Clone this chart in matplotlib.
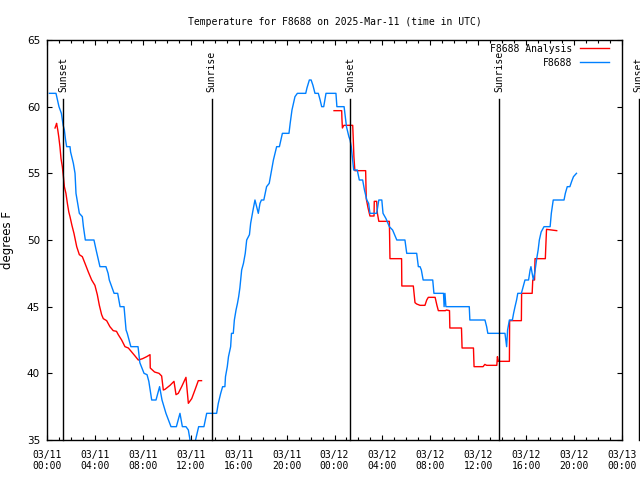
import matplotlib
matplotlib.use('Agg')
from matplotlib import pyplot as plt
import matplotlib.dates as mdates
import pandas as pd

# hours since 2025-03-11 00:00 UTC
obs_hours = [0.2, 0.75, 1.0, 1.2, 1.35, 1.45, 1.55, 1.64, 1.92, 1.97, 2.1, 2.2, 2.34, 2.42, 2.55, 2.7,
             2.95, 3.04, 3.2, 3.92, 4.1, 4.42, 4.92, 5.1, 5.2, 5.6, 5.9, 6.1, 6.43, 6.6, 6.7, 7.0,
             7.6, 7.75, 8.1, 8.35, 8.5, 8.74, 9.1, 9.4, 9.6, 9.93, 10.35, 10.8, 11.1, 11.3, 11.6,
             11.8, 11.94, 12.1, 12.25, 12.4, 12.66, 13.1, 13.33, 14.16, 14.3, 14.5, 14.66, 14.85,
             14.9, 15.05, 15.15, 15.33, 15.4, 15.55, 15.64, 15.78, 15.9, 16.0, 16.1, 16.25, 16.4,
             16.55, 16.67, 16.9, 17.0, 17.2, 17.36, 17.5, 17.64, 17.78, 17.9, 18.1, 18.33, 18.55,
             18.75, 18.9, 19.17, 19.4, 19.65, 20.2, 20.3, 20.45, 20.7, 20.9, 21.6, 21.7, 21.9,
             22.05, 22.2, 22.37, 22.65, 22.8, 22.93, 23.1, 23.29, 24.12, 24.2, 24.8, 24.9, 25.0,
             25.2, 25.3, 25.4, 25.5, 25.55, 25.6, 25.9, 26.07, 26.35, 26.5, 26.7, 26.85, 26.96,
             27.52, 27.7, 27.95, 28.05, 28.3, 28.58, 28.85, 29.2, 29.88, 30.03, 30.86, 31.0, 31.14,
             31.25, 31.4, 32.2, 32.3, 33.1, 33.15, 33.22, 33.3, 35.25, 35.3, 36.56, 36.7, 36.8,
             38.23, 38.3, 38.37, 38.45, 38.6, 38.85, 38.95, 39.07, 39.2, 39.3, 39.6, 39.75, 39.9,
             40.2, 40.33, 40.4, 40.5, 40.6, 40.75, 40.88, 41.0, 41.1, 41.25, 41.49, 42.0, 42.1,
             42.26, 43.16, 43.27, 43.43, 43.65, 43.8, 43.95, 44.2]
obs_temp = [61.0, 61.0, 60.0, 59.5, 58.6, 58.25, 57.5, 57.0, 57.0, 56.6, 56.1, 55.75, 55.0, 53.5, 52.8, 52.0,
            51.75, 51.0, 50.0, 50.0, 49.25, 48.0, 48.0, 47.5, 47.0, 46.0, 46.0, 45.0, 45.0, 43.25, 43.0, 42.0,
            42.0, 40.8, 40.0, 39.9, 39.4, 38.0, 38.0, 39.0, 38.0, 37.0, 36.0, 36.0, 37.0, 36.0, 36.0,
            35.75, 35.0, 34.5, 34.5, 35.0, 36.0, 36.0, 37.0, 37.0, 37.75, 38.5, 39.0, 39.0,
            39.75, 40.5, 41.25, 42.0, 43.0, 43.0, 44.0, 44.75, 45.25, 45.75, 46.4, 47.75, 48.25,
            49.0, 50.0, 50.4, 51.25, 52.25, 53.0, 52.5, 52.0, 52.75, 53.0, 53.0, 54.0, 54.25,
            55.25, 56.0, 57.0, 57.0, 58.0, 58.0, 58.75, 59.75, 60.75, 61.0, 61.0, 61.4, 62.0,
            62.0, 61.6, 61.0, 61.0, 60.5, 60.0, 60.0, 61.0, 61.0, 60.0, 60.0, 59.25, 58.5,
            57.75, 57.5, 57.0, 56.1, 55.6, 55.25, 55.25, 54.5, 54.5, 53.75, 53.0, 52.75, 52.0,
            52.0, 53.0, 53.0, 52.0, 51.6, 51.0, 50.75, 50.0, 50.0, 49.0, 49.0, 48.0, 48.0,
            47.75, 47.0, 47.0, 46.0, 46.0, 45.0, 46.0, 45.0, 45.0, 44.0, 44.0, 43.5, 43.0,
            43.0, 42.5, 42.0, 43.25, 44.0, 44.0, 44.5, 45.0, 45.5, 46.0, 46.0, 46.5, 47.0,
            47.0, 47.75, 48.0, 47.5, 47.0, 47.75, 48.6, 49.25, 50.0, 50.6, 51.0, 51.0, 52.0,
            53.0, 53.0, 53.5, 54.0, 54.0, 54.4, 54.75, 55.0]

ana1_hours = [0.67, 0.75, 0.8, 0.9, 0.98, 1.08, 1.17, 1.28, 1.37, 1.45, 1.58, 1.7, 1.82, 1.92, 2.08, 2.25,
              2.48, 2.7, 2.95, 3.17, 3.45, 3.73, 4.0, 4.2, 4.37, 4.56, 4.7, 4.98, 5.25, 5.53, 5.8, 5.95,
              6.23, 6.51, 6.79, 7.07, 7.35, 7.62, 7.98, 8.32, 8.6, 8.62, 8.98, 9.35, 9.57, 9.71, 9.85,
              10.27, 10.6, 10.77, 10.96, 11.24, 11.6, 11.8, 12.08, 12.35, 12.63, 12.9]
ana1_temp = [58.4, 58.6, 58.75, 58.25, 57.75, 57.0, 56.1, 55.5, 54.75, 54.0, 53.5, 52.75, 52.1, 51.75, 51.1, 50.5,
             49.5, 48.9, 48.75, 48.25, 47.6, 47.0, 46.6, 45.9, 45.1, 44.4, 44.1, 43.95, 43.5, 43.2, 43.15, 42.9,
             42.5, 42.0, 41.9, 41.6, 41.3, 41.0, 41.1, 41.25, 41.4, 40.4, 40.1, 40.0, 39.8, 38.75, 38.8,
             39.1, 39.4, 38.4, 38.5, 39.0, 39.7, 37.75, 38.1, 38.75, 39.45, 39.45]

ana2_hours = [23.96, 24.6, 24.62, 24.66, 24.78, 25.52, 25.57, 25.62, 25.7, 26.6, 26.65, 26.8, 26.96, 27.3,
              27.32, 27.52, 27.58, 27.7, 28.58, 28.63, 29.6, 29.62, 30.58, 30.72, 30.86, 31.14, 31.55,
              31.7, 31.83, 32.4, 32.55, 32.67, 33.25, 33.35, 33.6, 33.63, 34.6, 34.65, 35.6, 35.65, 36.4,
              36.55, 36.7, 37.55, 37.6, 37.68, 38.6, 38.62, 39.6, 39.62, 40.5, 40.55, 40.7, 40.74, 41.6,
              41.65, 41.7, 42.55]
ana2_temp = [59.7, 59.7, 59.1, 58.4, 58.6, 58.6, 57.5, 56.25, 55.2, 55.2, 53.1, 52.4, 51.8, 51.8,
             52.9, 52.9, 52.0, 51.4, 51.4, 48.6, 48.6, 46.55, 46.55, 45.3, 45.2, 45.1, 45.1,
             45.5, 45.7, 45.7, 45.1, 44.7, 44.7, 44.75, 44.7, 43.4, 43.4, 41.9, 41.9, 40.5, 40.5,
             40.67, 40.6, 40.6, 41.25, 40.9, 40.9, 43.95, 43.95, 46.0, 46.0, 47.0, 47.0, 48.6, 48.6,
             49.75, 50.8, 50.7]

sun_hours = [1.36, 13.75, 25.32, 37.75, 49.4]
sun_labels = ['Sunset', 'Sunrise', 'Sunset', 'Sunrise', 'Sunset']

start = pd.Timestamp('2025-03-11 00:00')


def to_time(hours):
    return start + pd.to_timedelta(hours, unit='h')


mono = 'DejaVu Sans Mono'
plt.rcParams['font.family'] = mono
plt.rcParams['font.size'] = 7

fig = plt.figure(figsize=(6.4, 4.8), dpi=100)
ax = fig.add_axes([47 / 640, 40 / 480, 575 / 640, 400 / 480])

red = '#ff0000'
blue = '#0080ff'
ax.plot(to_time(ana1_hours), ana1_temp, color=red, lw=1.0, label='F8688 Analysis')
ax.plot(to_time(ana2_hours), ana2_temp, color=red, lw=1.0)
ax.plot(to_time(obs_hours), obs_temp, color=blue, lw=1.0, label='F8688')

# sunrise / sunset markers
for h, lab in zip(sun_hours, sun_labels):
    t = to_time(h)
    ax.plot([t, t], [35, 60.58], color='black', lw=1.0, clip_on=False)
    ax.text(t, 61.1, lab, rotation=90, ha='center', va='bottom', fontsize=7,
            family=mono, clip_on=False)

ax.set_xlim(start, to_time(48))
ax.set_ylim(35, 65)
ax.set_yticks([35, 40, 45, 50, 55, 60, 65])

ax.xaxis.set_major_locator(mdates.HourLocator(byhour=range(0, 24, 4)))
ax.xaxis.set_minor_locator(mdates.HourLocator())
ax.xaxis.set_major_formatter(mdates.DateFormatter('%m/%d\n%H:%M'))

ax.tick_params(which='both', direction='in', top=True, right=True, width=0.8)
ax.tick_params(which='major', length=3.5)
ax.tick_params(which='minor', length=2)
ax.tick_params(axis='x', pad=7, labelsize=7)
ax.tick_params(axis='y', pad=5)
for lbl in ax.get_yticklabels():
    lbl.set_family('DejaVu Sans')
    lbl.set_fontsize(7.5)
for sp in ax.spines.values():
    sp.set_linewidth(1.0)

ax.set_title('Temperature for F8688 on 2025-Mar-11 (time in UTC)', fontsize=7, pad=11)
ax.set_ylabel('degrees F', family='DejaVu Sans', fontsize=8.5)
ax.yaxis.set_label_coords(-0.058, 0.5)

ax.legend(loc='upper right', bbox_to_anchor=(0.987, 1.005), frameon=False, markerfirst=False,
          handlelength=2.9, handletextpad=0.8, labelspacing=0.4, fontsize=7, borderaxespad=0.2)

plt.savefig('out.png', dpi=100)
